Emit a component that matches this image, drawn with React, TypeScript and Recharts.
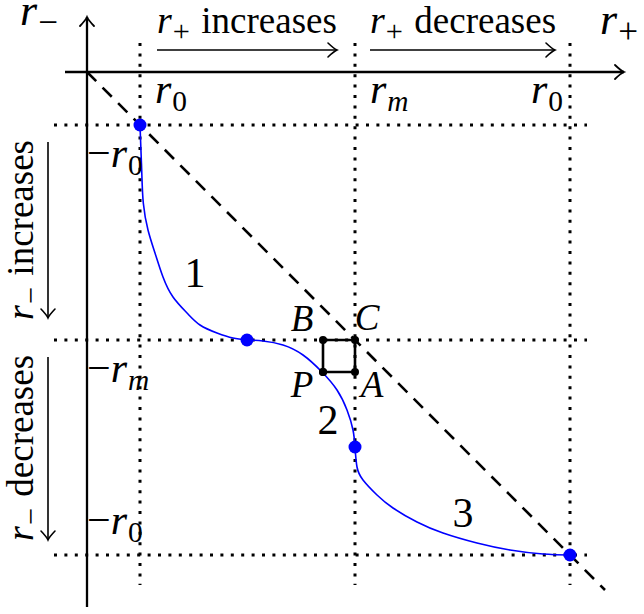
import React from "react";
import {
  ComposedChart,
  XAxis,
  YAxis,
  Line,
  ReferenceLine,
  ReferenceDot,
} from "recharts";

const FONT = '"Liberation Serif", "DejaVu Serif", serif';
const BLUE = "#0000ff";

// r0, rm, r0 positions on the r+ axis and on the r- axis
const xLevels = [0.53, 2.68, 4.83];
const yLevels = [-0.53, -2.68, -4.83];
const xTickSubs = ["0", "m", "0"];
const yTickSubs = ["0", "m", "0"];

// the three branches of the curve
const curve1 = [
  { x: 0.53, y: -0.53 },
  { x: 0.547, y: -0.98 },
  { x: 0.563, y: -1.31 },
  { x: 0.61, y: -1.58 },
  { x: 0.68, y: -1.81 },
  { x: 0.76, y: -2.05 },
  { x: 0.86, y: -2.25 },
  { x: 1.0, y: -2.41 },
  { x: 1.13, y: -2.53 },
  { x: 1.3, y: -2.61 },
  { x: 1.46, y: -2.66 },
  { x: 1.6, y: -2.68 },
];
const curve2 = [
  { x: 1.6, y: -2.68 },
  { x: 1.76, y: -2.69 },
  { x: 1.96, y: -2.73 },
  { x: 2.16, y: -2.83 },
  { x: 2.35, y: -3.0 },
  { x: 2.5, y: -3.18 },
  { x: 2.6, y: -3.38 },
  { x: 2.66, y: -3.58 },
  { x: 2.68, y: -3.75 },
];
const curve3 = [
  { x: 2.68, y: -3.75 },
  { x: 2.7, y: -3.95 },
  { x: 2.76, y: -4.08 },
  { x: 2.9, y: -4.23 },
  { x: 3.06, y: -4.36 },
  { x: 3.3, y: -4.5 },
  { x: 3.56, y: -4.61 },
  { x: 3.9, y: -4.71 },
  { x: 4.23, y: -4.78 },
  { x: 4.56, y: -4.82 },
  { x: 4.83, y: -4.83 },
];
const bluePoints = [
  { x: 0.53, y: -0.53 },
  { x: 1.6, y: -2.68 },
  { x: 2.68, y: -3.75 },
  { x: 4.83, y: -4.83 },
];
// P -> B -> C -> A -> P
const square = [
  { x: 2.36, y: -3.0 },
  { x: 2.36, y: -2.68 },
  { x: 2.68, y: -2.68 },
  { x: 2.68, y: -3.0 },
  { x: 2.36, y: -3.0 },
];
const branchNames = ["1", "2", "3"];
const cornerNames = ["B", "C", "P", "A"];

const arrowShape = (props: any) => {
  const { x1, y1, x2, y2 } = props;
  const len = Math.hypot(x2 - x1, y2 - y1) || 1;
  const ux = (x2 - x1) / len;
  const uy = (y2 - y1) / len;
  const nx = -uy;
  const ny = ux;
  const L = 9;
  const W = 7;
  const b1x = x2 - L * ux + W * nx;
  const b1y = y2 - L * uy + W * ny;
  const b2x = x2 - L * ux - W * nx;
  const b2y = y2 - L * uy - W * ny;
  const c1x = x2 - 0.35 * L * ux + 0.2 * W * nx;
  const c1y = y2 - 0.35 * L * uy + 0.2 * W * ny;
  const c2x = x2 - 0.35 * L * ux - 0.2 * W * nx;
  const c2y = y2 - 0.35 * L * uy - 0.2 * W * ny;
  const sw = props.strokeWidth || 2;
  return (
    <g>
      <line x1={x1} y1={y1} x2={x2} y2={y2} stroke="#000" strokeWidth={sw} />
      <path
        d={`M${b1x},${b1y} Q${c1x},${c1y} ${x2},${y2} Q${c2x},${c2y} ${b2x},${b2y}`}
        fill="none"
        stroke="#000"
        strokeWidth={Math.max(1.6, sw * 0.8)}
        strokeLinecap="round"
      />
    </g>
  );
};

type TexProps = {
  pre?: string;
  base?: string;
  sub?: string;
  post?: string;
  size: number;
  italic?: boolean;
  anchor?: "start" | "middle" | "end";
  rotate?: boolean;
  postSize?: number;
};

const tex = (t: TexProps) => (props: any) => {
  const { cx, cy } = props;
  const subSize = t.sub === "−" || t.sub === "+" ? t.size * 0.8 : t.size * 0.7;
  const drop = t.size * 0.2;
  return (
    <text
      x={cx}
      y={cy}
      fontFamily={FONT}
      fontSize={t.size}
      fill="#000"
      textAnchor={t.anchor || "start"}
      transform={t.rotate ? `rotate(-90, ${cx}, ${cy})` : undefined}
    >
      {t.pre ? <tspan>{t.pre}</tspan> : null}
      {t.base ? (
        <tspan fontStyle={t.italic === false ? "normal" : "italic"}>{t.base}</tspan>
      ) : null}
      {t.sub ? (
        <tspan
          fontSize={subSize}
          dy={drop}
          dx={1}
          fontStyle={t.sub === "m" ? "italic" : "normal"}
        >
          {t.sub}
        </tspan>
      ) : null}
      {t.post ? (
        <tspan dy={t.sub ? -drop : 0} dx={t.size * 0.3} fontSize={t.postSize || t.size}>
          {t.post}
        </tspan>
      ) : null}
    </text>
  );
};

export default function App() {
  const dotted = { stroke: "#000", strokeWidth: 3, strokeDasharray: "3 7.4" };
  return (
    <div style={{ position: "absolute", left: 0, top: 0, width: 644, height: 614, background: "#fff" }}>
      <ComposedChart width={644} height={614} margin={{ top: 0, right: 0, bottom: 0, left: 0 }}>
        <XAxis type="number" dataKey="x" domain={[-0.87, 5.57]} hide allowDataOverflow />
        <YAxis type="number" dataKey="y" domain={[-5.42, 0.72]} hide allowDataOverflow />

        {xLevels.map((x, i) => (
          <ReferenceLine key={"vx" + i} segment={[{ x, y: 0.29 }, { x, y: -5.13 }]} {...dotted} />
        ))}
        {yLevels.map((y, i) => (
          <ReferenceLine key={"hy" + i} segment={[{ x: -0.33, y }, { x: 5.0, y }]} {...dotted} />
        ))}

        {/* axes */}
        <ReferenceLine segment={[{ x: -0.22, y: 0 }, { x: 5.37, y: 0 }]} strokeWidth={2.3} shape={arrowShape} />
        <ReferenceLine segment={[{ x: 0, y: -5.35 }, { x: 0, y: 0.55 }]} strokeWidth={2.3} shape={arrowShape} />

        {/* direction arrows */}
        <ReferenceLine segment={[{ x: 0.7, y: 0.22 }, { x: 2.5, y: 0.22 }]} strokeWidth={1.6} shape={arrowShape} />
        <ReferenceLine segment={[{ x: 2.83, y: 0.22 }, { x: 4.68, y: 0.22 }]} strokeWidth={1.6} shape={arrowShape} />
        <ReferenceLine segment={[{ x: -0.39, y: -0.7 }, { x: -0.39, y: -2.46 }]} strokeWidth={1.6} shape={arrowShape} />
        <ReferenceLine segment={[{ x: -0.39, y: -2.85 }, { x: -0.39, y: -4.68 }]} strokeWidth={1.6} shape={arrowShape} />

        <ReferenceLine
          segment={[{ x: 0, y: 0 }, { x: 5.18, y: -5.18 }]}
          stroke="#000"
          strokeWidth={2.6}
          strokeDasharray="13 9"
        />

        <Line data={curve1} dataKey="y" type="natural" stroke={BLUE} strokeWidth={1.6} dot={false} activeDot={false} isAnimationActive={false} />
        <Line data={curve2} dataKey="y" type="natural" stroke={BLUE} strokeWidth={1.6} dot={false} activeDot={false} isAnimationActive={false} />
        <Line data={curve3} dataKey="y" type="natural" stroke={BLUE} strokeWidth={1.6} dot={false} activeDot={false} isAnimationActive={false} />
        <Line
          data={square}
          dataKey="y"
          type="linear"
          stroke="#000"
          strokeWidth={2.6}
          dot={{ r: 4, fill: "#000", stroke: "none" }}
          activeDot={false}
          isAnimationActive={false}
        />
        {bluePoints.map((p, i) => (
          <ReferenceDot key={"bp" + i} x={p.x} y={p.y} r={6.5} fill={BLUE} stroke="none" />
        ))}

        {/* axis names */}
        <ReferenceDot x={-0.67} y={0.47} r={0} shape={tex({ base: "r", sub: "−", size: 44 })} />
        <ReferenceDot x={5.13} y={0.38} r={0} shape={tex({ base: "r", sub: "+", size: 44 })} />
        <ReferenceDot x={0.7} y={0.39} r={0} shape={tex({ base: "r", sub: "+", post: "increases", size: 38, postSize: 37 })} />
        <ReferenceDot x={2.83} y={0.39} r={0} shape={tex({ base: "r", sub: "+", post: "decreases", size: 38, postSize: 37 })} />
        <ReferenceDot x={-0.54} y={-1.58} r={0} shape={tex({ base: "r", sub: "−", post: "increases", size: 38, postSize: 37, anchor: "middle", rotate: true })} />
        <ReferenceDot x={-0.54} y={-3.76} r={0} shape={tex({ base: "r", sub: "−", post: "decreases", size: 38, postSize: 37, anchor: "middle", rotate: true })} />

        {/* level labels */}
        {xLevels.map((x, i) => (
          <ReferenceDot
            key={"xl" + i}
            x={x + (i === 2 ? -0.39 : 0.15)}
            y={-0.31}
            r={0}
            shape={tex({ base: "r", sub: xTickSubs[i], size: 42 })}
          />
        ))}
        {yLevels.map((y, i) => (
          <ReferenceDot
            key={"yl" + i}
            x={0}
            y={y + (i === 2 ? 0.21 : -0.42)}
            r={0}
            shape={tex({ pre: "−", base: "r", sub: yTickSubs[i], size: 42 })}
          />
        ))}

        {/* branch numbers and square corners */}
        {[
          { x: 1.08, y: -2.15 },
          { x: 2.41, y: -3.62 },
          { x: 3.76, y: -4.55 },
        ].map((p, i) => (
          <ReferenceDot key={"b" + i} x={p.x} y={p.y} r={0} shape={tex({ base: branchNames[i], italic: false, size: 42, anchor: "middle" })} />
        ))}
        {[
          { x: 2.15, y: -2.59 },
          { x: 2.8, y: -2.58 },
          { x: 2.15, y: -3.25 },
          { x: 2.85, y: -3.25 },
        ].map((p, i) => (
          <ReferenceDot key={"c" + i} x={p.x} y={p.y} r={0} shape={tex({ base: cornerNames[i], size: 37, anchor: "middle" })} />
        ))}
      </ComposedChart>
    </div>
  );
}
